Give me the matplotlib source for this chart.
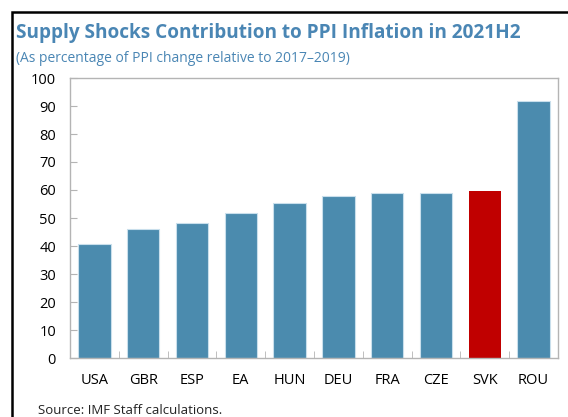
import matplotlib
matplotlib.use('Agg')
import matplotlib.pyplot as plt
from matplotlib.patches import Rectangle

plt.rcParams['font.family'] = ['Open Sans', 'DejaVu Sans']

countries = ['USA', 'GBR', 'ESP', 'EA', 'HUN', 'DEU', 'FRA', 'CZE', 'SVK', 'ROU']
values = [40.8, 46.1, 48.2, 51.7, 55.3, 57.9, 58.8, 59.1, 59.7, 91.8]
highlight = 'SVK'

blue = '#4b8bae'
red = '#c00000'
title_blue = '#4a86b4'
grey = '#b4b4b4'

fig = plt.figure(figsize=(5.68, 4.17), dpi=100)
ax = fig.add_axes([70 / 568, 59 / 417, 488 / 568, 280 / 417])

colors = [red if c == highlight else blue for c in countries]
edges = ['none' if c == highlight else '#c9dfec' for c in countries]
x = list(range(len(countries)))
ax.bar(x, values, width=0.66, color=colors, edgecolor=edges, linewidth=0.8)

ax.set_xlim(-0.5, len(countries) - 0.5)
ax.set_ylim(0, 100)
ax.set_yticks(range(0, 101, 10))
ax.set_xticks(x)
ax.set_xticklabels(countries)
ax.set_xticks([i + 0.5 for i in x[:-1]], minor=True)

for s in ax.spines.values():
    s.set_color(grey)
    s.set_linewidth(1.0)

ax.tick_params(axis='y', direction='in', length=5, color=grey, labelsize=10.5, pad=10)
ax.tick_params(axis='x', which='major', length=0, labelsize=10.5, pad=11)
ax.tick_params(axis='x', which='minor', direction='in', length=5, color=grey)

fig.text(16 / 568, 1 - 33 / 417, 'Supply Shocks Contribution to PPI Inflation in 2021H2',
         fontsize=13.7, fontweight='bold', color=title_blue, va='center', ha='left')
fig.text(16 / 568, 1 - 58 / 417, '(As percentage of PPI change relative to 2017\u20132019)',
         fontsize=10, color=title_blue, va='center', ha='left')
fig.text(38 / 568, 1 - 410 / 417, 'Source: IMF Staff calculations.',
         fontsize=9.5, color='#222222', va='center', ha='left')

# black frame round the figure, cut off at the right and bottom
fig.patches.append(Rectangle((11.5 / 568, -0.2), 1.2, 1 - 11.5 / 417 + 0.2,
                             transform=fig.transFigure, fill=False,
                             edgecolor='black', linewidth=1.8))

fig.savefig('out.png', dpi=100)
